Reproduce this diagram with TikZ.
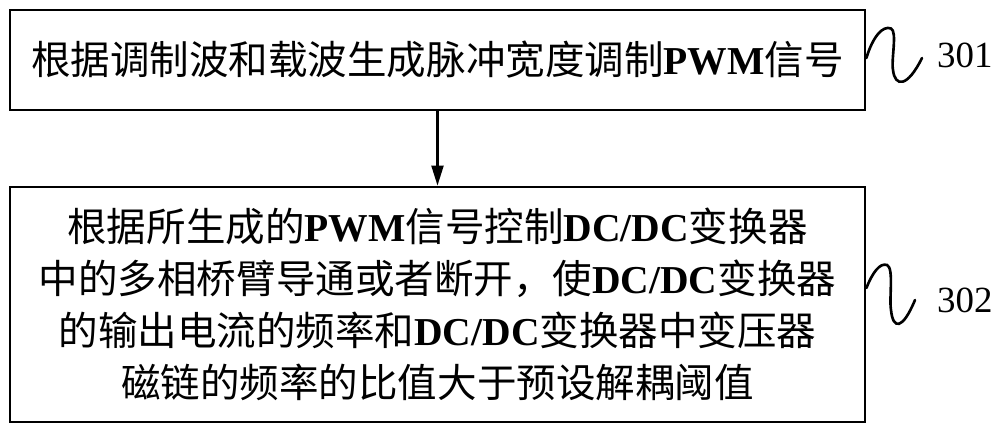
\documentclass[tikz,border=0pt]{standalone}
\usepackage{fontspec}
\setmainfont{Liberation Serif}
\newfontfamily\cjk{Noto Sans CJK SC}
\newfontfamily\enfont{Liberation Serif}
\usepackage{tikz}
\usetikzlibrary{arrows.meta, positioning, calc}
\newcommand{\lat}[1]{{\enfont\bfseries #1}}
\tikzset{
  basebox/.style={rectangle, draw=black, line width=1.6pt, align=center,
                  font=\cjk\fontsize{22.5}{29.5}\selectfont, inner sep=0pt},
  stepbox/.style={basebox, minimum width=17.1cm},
  reflabel/.style={font=\enfont\fontsize{21}{25}\selectfont, anchor=west},
  arrow/.style={-{Triangle[length=0.4cm,width=0.24cm]}, line width=1.2pt},
  squiggle/.style={line width=1.5pt, line cap=round}
}
\begin{document}
\begin{tikzpicture}
  \useasboundingbox (0,0) rectangle (20,-8.62);
  \node[stepbox, minimum height=2cm] (box1) at (8.75,-1.2)
    {根据调制波和载波生成脉冲宽度调制\lat{PWM}信号};
  \node[stepbox, minimum height=4.7cm] (box2) at (8.75,-6.09)
    {根据所生成的\lat{PWM}信号控制\lat{DC/DC}变换器\\
     中的多相桥臂导通或者断开，使\lat{DC/DC}变换器\\
     的输出电流的频率和\lat{DC/DC}变换器中变压器\\
     磁链的频率的比值大于预设解耦阈值};
  \draw[arrow] (box1.south) -- (box2.north);

  % reference numerals
  \node[reflabel] (n301) at (18.62,-1.1) {301};
  \node[reflabel] (n302) at (18.62,-6.0) {302};
  \coordinate (s1) at ($(box1.east)+(0,0.04)$);
  \coordinate (s2) at ($(box2.east)+(0,0.33)$);
  \draw[squiggle] (s1) .. controls (17.45,-0.75) and (17.65,-0.5) .. (17.82,-0.57)
    .. controls (17.95,-0.63) and (17.82,-1.2) .. (17.86,-1.4)
    .. controls (17.9,-1.75) and (18.15,-1.75) .. (18.44,-1.16);
  \draw[squiggle] (s2) .. controls (17.45,-5.45) and (17.6,-5.25) .. (17.74,-5.3)
    .. controls (17.88,-5.36) and (17.78,-5.95) .. (17.82,-6.2)
    .. controls (17.86,-6.6) and (18.05,-6.6) .. (18.3,-6.0);
\end{tikzpicture}
\end{document}
